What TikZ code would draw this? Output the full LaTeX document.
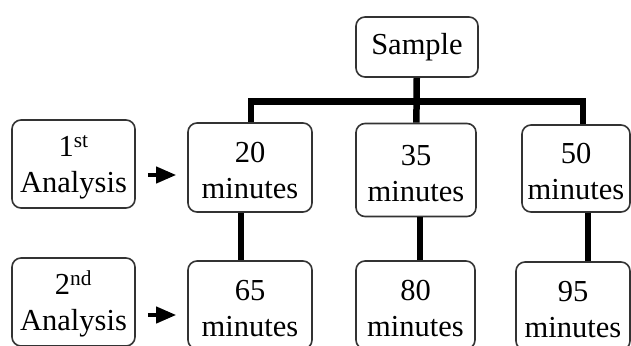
\documentclass[tikz,border=0pt]{standalone}
\usepackage{fontspec}
\setmainfont{Liberation Serif}
\usetikzlibrary{arrows.meta}
\newcommand{\topstrut}{\rule{0pt}{27pt}}
\tikzset{
  box/.style={draw=black!80, line width=1.6pt, rounded corners=9pt, align=center,
    inner sep=0pt, font=\fontsize{30.5}{36}\selectfont},
  conn/.style={line width=6.5pt, line join=miter},
  arr/.style={line width=4pt, -{Triangle[length=20pt,width=16pt]}}
}
\begin{document}
\begin{tikzpicture}[x=1pt,y=-1pt]
\useasboundingbox (0,0) rectangle (631,345);
\clip (0,0) rectangle (631,345);
\node[box, minimum width=122pt, minimum height=60pt] (sample) at (417,47) {Sample};
\node[box, minimum width=124pt, minimum height=89pt] (t20) at (250,167.5) {\topstrut 20\\minutes};
\node[box, minimum width=120pt, minimum height=93pt] (t35) at (416,170) {\topstrut 35\\minutes};
\node[box, minimum width=108pt, minimum height=87pt] (t50) at (576,168.5) {\topstrut 50\\minutes};
\node[box, minimum width=124pt, minimum height=88pt] (b65) at (250,305) {\topstrut 65\\minutes};
\node[box, minimum width=119pt, minimum height=88pt] (b80) at (415.5,305) {\topstrut 80\\minutes};
\node[box, minimum width=114pt, minimum height=88pt] (b95) at (573,306) {\topstrut 95\\minutes};
\node[box, minimum width=123pt, minimum height=88pt] (a1) at (73.5,164) {\topstrut 1\textsuperscript{st}\\Analysis};
\node[box, minimum width=123pt, minimum height=88pt] (a2) at (73.5,302) {\topstrut 2\textsuperscript{nd}\\Analysis};
\coordinate (jl) at (251,101.5);
\coordinate (jr) at (583,101.5);
\draw[conn] (sample) -- (t35);
\draw[conn] (jl |- t20.north) -- (jl) -- (jr) -- (jr |- t50.north);
\draw[conn] ([xshift=-9pt]t20.south) -- ([xshift=-9pt]t20.south |- b65.north);
\draw[conn] ([xshift=4pt]t35.south) -- ([xshift=4pt]t35.south |- b80.north);
\draw[conn] ([xshift=12pt]t50.south) -- ([xshift=12pt]t50.south |- b95.north);
\draw[arr, shorten <=12pt, shorten >=11pt] ([yshift=-11pt]a1.east) -- ([yshift=-11pt]a1.east -| t20.west);
\draw[arr, shorten <=12pt, shorten >=11pt] ([yshift=-13pt]a2.east) -- ([yshift=-13pt]a2.east -| b65.west);
\end{tikzpicture}
\end{document}
